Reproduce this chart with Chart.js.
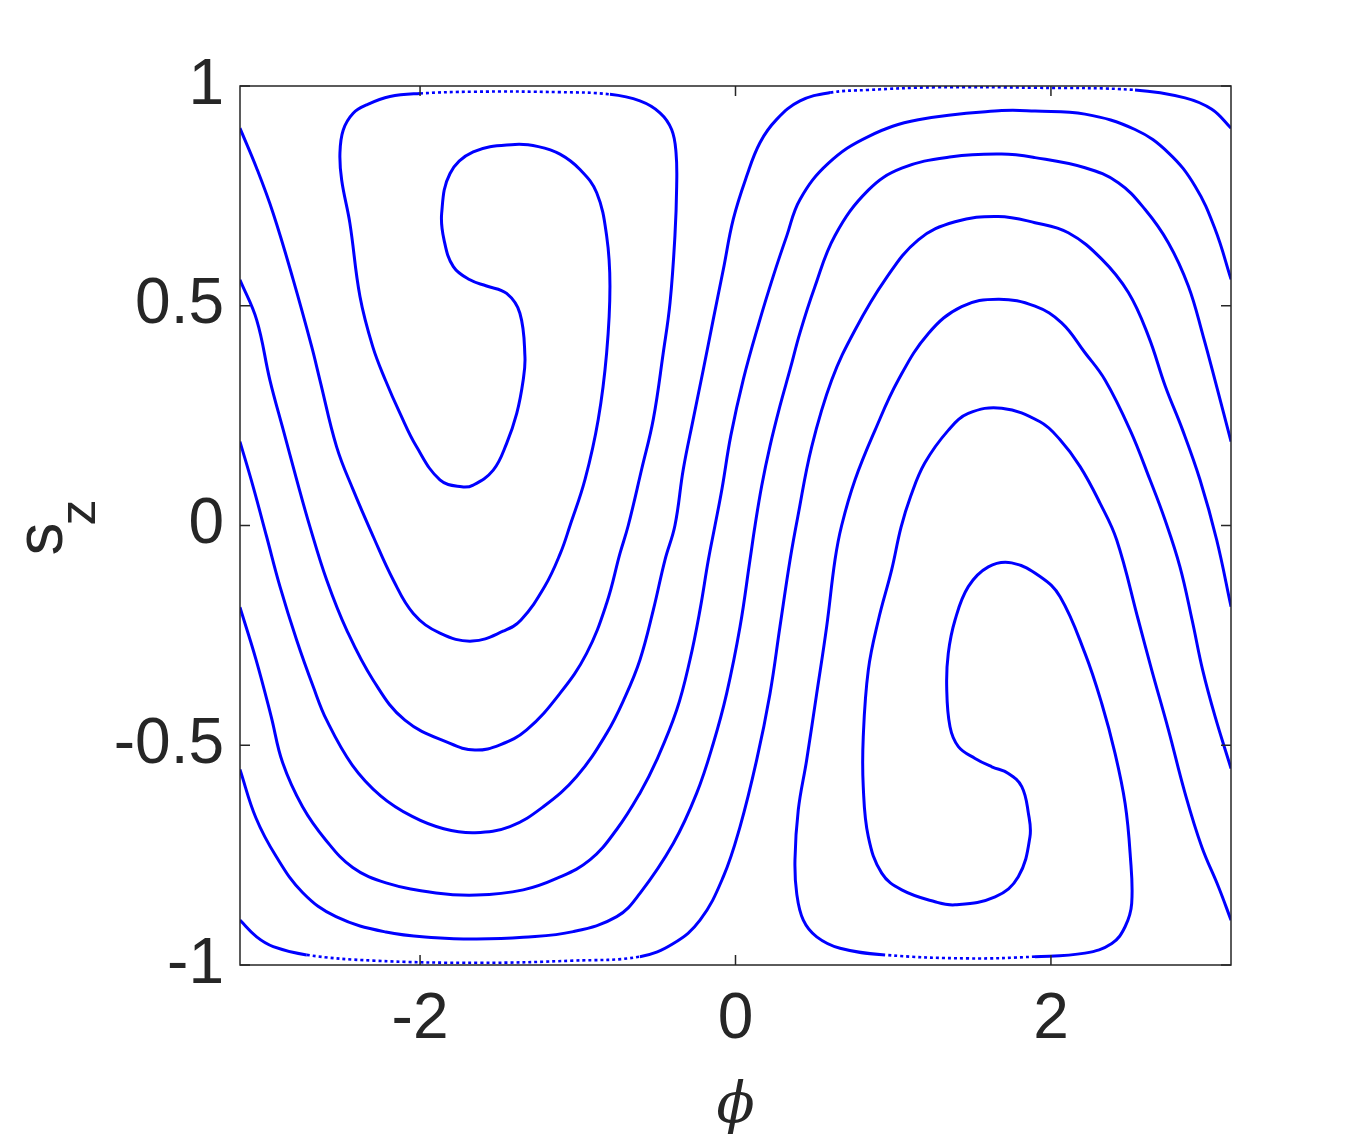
<!DOCTYPE html>
<html lang="en">
<head>
  <meta charset="UTF-8">
  <title>Phase portrait</title>
  <script src="https://cdn.jsdelivr.net/npm/chart.js"></script>
  <style>
    html, body { margin: 0; padding: 0; background: #fff; }
  </style>
</head>
<body>
  <canvas id="phaseChart" width="1360" height="1134"></canvas>

  <script>
    // tick positions
    const xTicks = [-2, 0, 2];
    const yTicks = [-1, -0.5, 0, 0.5, 1];

    // trajectories, [phi, s_z]
    // left edge 0.9 -> trough -0.26 -> left island -> trough -0.51 -> left edge 0.55
    const curveA = [[-3.142,0.904],[-3.036,0.813],[-2.931,0.710],[-2.804,0.559],[-2.687,0.407],[-2.635,0.331],[-2.529,0.179],[-2.424,0.081],[-2.297,-0.025],[-2.170,-0.124],[-2.043,-0.200],[-1.874,-0.245],[-1.669,-0.263],[-1.470,-0.240],[-1.360,-0.215],[-1.210,-0.139],[-1.110,-0.063],[-1.049,0.0],[-0.954,0.105],[-0.870,0.242],[-0.817,0.393],[-0.796,0.545],[-0.817,0.659],[-0.880,0.757],[-0.986,0.810],[-1.113,0.845],[-1.250,0.862],[-1.398,0.867],[-1.663,0.850],[-1.810,0.801],[-1.863,0.710],[-1.848,0.650],[-1.789,0.589],[-1.684,0.559],[-1.578,0.545],[-1.451,0.528],[-1.367,0.483],[-1.335,0.384],[-1.346,0.331],[-1.387,0.255],[-1.451,0.187],[-1.536,0.126],[-1.663,0.092],[-1.736,0.088],[-1.874,0.104],[-2.022,0.179],[-2.127,0.255],[-2.220,0.331],[-2.300,0.407],[-2.381,0.521],[-2.445,0.688],[-2.497,0.786],[-2.508,0.847],[-2.487,0.900],[-2.424,0.938],[-2.339,0.957],[-2.191,0.976],[-2.001,0.983],[-1.663,0.987],[-1.113,0.986],[-0.796,0.981],[-0.606,0.966],[-0.479,0.939],[-0.405,0.901],[-0.377,0.848],[-0.373,0.772],[-0.384,0.659],[-0.415,0.507],[-0.458,0.393],[-0.521,0.242],[-0.595,0.128],[-0.680,0.0],[-0.732,-0.063],[-0.817,-0.177],[-0.944,-0.291],[-1.113,-0.382],[-1.324,-0.465],[-1.493,-0.499],[-1.652,-0.511],[-1.810,-0.496],[-2.096,-0.443],[-2.297,-0.352],[-2.465,-0.238],[-2.592,-0.124],[-2.698,-0.003],[-2.782,0.104],[-2.867,0.217],[-2.952,0.331],[-3.036,0.468],[-3.142,0.559]];

    // right edge -0.9 -> peak 0.26 -> right island -> peak 0.51 -> right edge -0.55
    const curveB = [[3.142,-0.898],[3.062,-0.822],[2.956,-0.731],[2.850,-0.609],[2.745,-0.465],[2.639,-0.329],[2.554,-0.215],[2.417,-0.033],[2.311,0.051],[2.185,0.134],[2.058,0.195],[1.931,0.236],[1.688,0.267],[1.476,0.255],[1.350,0.217],[1.200,0.142],[1.110,0.066],[1.049,-0.005],[0.990,-0.101],[0.906,-0.215],[0.842,-0.329],[0.810,-0.481],[0.810,-0.594],[0.842,-0.708],[0.927,-0.791],[1.054,-0.829],[1.265,-0.856],[1.392,-0.863],[1.646,-0.845],[1.793,-0.799],[1.867,-0.708],[1.857,-0.655],[1.815,-0.594],[1.730,-0.564],[1.625,-0.549],[1.519,-0.530],[1.413,-0.503],[1.360,-0.458],[1.339,-0.367],[1.349,-0.291],[1.392,-0.215],[1.476,-0.139],[1.603,-0.094],[1.751,-0.085],[1.931,-0.116],[2.058,-0.162],[2.216,-0.291],[2.322,-0.405],[2.406,-0.518],[2.470,-0.632],[2.502,-0.746],[2.512,-0.860],[2.470,-0.913],[2.386,-0.951],[2.216,-0.973],[1.899,-0.981],[1.476,-0.985],[0.948,-0.977],[0.663,-0.962],[0.515,-0.936],[0.430,-0.898],[0.388,-0.837],[0.377,-0.761],[0.398,-0.647],[0.451,-0.534],[0.515,-0.382],[0.578,-0.230],[0.631,-0.078],[0.673,0.0],[0.758,0.104],[0.885,0.217],[1.032,0.331],[1.223,0.437],[1.434,0.498],[1.666,0.515],[1.899,0.499],[2.068,0.461],[2.216,0.393],[2.343,0.331],[2.502,0.217],[2.628,0.104],[2.723,0.013],[2.818,-0.094],[2.895,-0.215],[2.962,-0.329],[3.041,-0.435],[3.142,-0.553]];

    // left edge 0.19 -> trough -0.70 -> top 0.99 -> right edge 0.9
    const curveC = [[-3.142,0.191],[-3.058,0.088],[-2.973,-0.025],[-2.888,-0.139],[-2.782,-0.261],[-2.677,-0.367],[-2.592,-0.443],[-2.430,-0.545],[-2.250,-0.615],[-2.050,-0.662],[-1.850,-0.690],[-1.652,-0.699],[-1.430,-0.685],[-1.219,-0.640],[-1.007,-0.571],[-0.817,-0.473],[-0.700,-0.390],[-0.606,-0.306],[-0.521,-0.192],[-0.447,-0.078],[-0.384,0.0],[-0.331,0.128],[-0.268,0.242],[-0.204,0.355],[-0.141,0.469],[-0.077,0.583],[-0.014,0.697],[0.071,0.795],[0.155,0.871],[0.261,0.924],[0.409,0.966],[0.600,0.985],[0.842,0.991],[1.265,0.997],[1.899,0.996],[2.533,0.991],[2.850,0.973],[3.020,0.947],[3.142,0.904]];

    // left edge -0.19 -> trough -0.84 -> peak 0.94 -> right edge 0.55
    const curveD = [[-3.142,-0.186],[-3.040,-0.305],[-2.945,-0.433],[-2.871,-0.540],[-2.745,-0.640],[-2.597,-0.716],[-2.427,-0.778],[-2.216,-0.813],[-1.899,-0.836],[-1.641,-0.841],[-1.346,-0.829],[-1.134,-0.803],[-0.923,-0.761],[-0.750,-0.690],[-0.606,-0.609],[-0.500,-0.534],[-0.373,-0.420],[-0.289,-0.306],[-0.225,-0.192],[-0.172,-0.078],[-0.130,0.0],[-0.085,0.085],[-0.030,0.204],[0.050,0.333],[0.148,0.460],[0.240,0.568],[0.325,0.659],[0.409,0.742],[0.588,0.824],[0.842,0.885],[1.159,0.923],[1.688,0.944],[1.899,0.943],[2.216,0.936],[2.533,0.901],[2.745,0.848],[2.914,0.772],[3.041,0.674],[3.142,0.560]];

    // left edge -0.55 -> trough -0.94 -> peak 0.84 -> right edge 0.19
    const curveE = [[-3.142,-0.555],[-3.041,-0.665],[-2.914,-0.752],[-2.745,-0.835],[-2.533,-0.890],[-2.216,-0.925],[-1.899,-0.938],[-1.641,-0.941],[-1.346,-0.937],[-1.029,-0.924],[-0.753,-0.890],[-0.606,-0.837],[-0.394,-0.723],[-0.246,-0.609],[-0.141,-0.496],[-0.056,-0.382],[0.029,-0.230],[0.092,-0.078],[0.124,0.0],[0.166,0.090],[0.219,0.181],[0.282,0.272],[0.346,0.355],[0.409,0.439],[0.500,0.540],[0.631,0.660],[0.842,0.763],[1.054,0.813],[1.371,0.839],[1.688,0.845],[1.899,0.837],[2.216,0.814],[2.427,0.780],[2.597,0.719],[2.745,0.643],[2.871,0.545],[2.965,0.431],[3.050,0.317],[3.142,0.191]];

    // left edge -0.9 -> bottom -0.99 -> peak 0.70 -> right edge -0.19
    const curveF = [[-3.142,-0.898],[-3.036,-0.936],[-2.931,-0.958],[-2.719,-0.977],[-2.297,-0.990],[-1.620,-0.995],[-1.029,-0.990],[-0.606,-0.981],[-0.394,-0.951],[-0.225,-0.898],[-0.077,-0.799],[0.029,-0.685],[0.134,-0.534],[0.219,-0.382],[0.282,-0.230],[0.346,-0.078],[0.395,0.020],[0.483,0.179],[0.610,0.331],[0.758,0.445],[0.948,0.559],[1.159,0.650],[1.392,0.691],[1.666,0.703],[1.899,0.689],[2.110,0.666],[2.322,0.606],[2.491,0.530],[2.618,0.431],[2.725,0.317],[2.835,0.217],[2.945,0.104],[3.051,-0.033],[3.142,-0.185]];

    const curves = [curveA, curveB, curveC, curveD, curveE, curveF];

    const AXIS_COLOR = '#262626';
    const LINE_COLOR = '#0000ff';

    // near |s_z| = 1 the trajectory samples are sparse and show up as dots
    const sparse = c => Math.abs(c.p0.parsed.y) >= 0.977 && Math.abs(c.p1.parsed.y) >= 0.977;

    // MATLAB style box with inward ticks, plus axis titles
    const framePlugin = {
      id: 'frame',
      afterDatasetsDraw(chart) {
        const { ctx, chartArea: a, scales: { x, y } } = chart;
        ctx.save();
        ctx.strokeStyle = AXIS_COLOR;
        ctx.lineWidth = 1.5;
        ctx.strokeRect(a.left, a.top, a.right - a.left, a.bottom - a.top);
        ctx.beginPath();
        x.ticks.forEach(t => {
          const px = x.getPixelForValue(t.value);
          ctx.moveTo(px, a.bottom); ctx.lineTo(px, a.bottom - 10);
          ctx.moveTo(px, a.top); ctx.lineTo(px, a.top + 10);
        });
        y.ticks.forEach(t => {
          const py = y.getPixelForValue(t.value);
          ctx.moveTo(a.left, py); ctx.lineTo(a.left + 10, py);
          ctx.moveTo(a.right, py); ctx.lineTo(a.right - 10, py);
        });
        ctx.stroke();

        // x title: phi
        ctx.fillStyle = AXIS_COLOR;
        ctx.textAlign = 'center';
        ctx.textBaseline = 'alphabetic';
        ctx.font = 'italic 56px "DejaVu Serif"';
        ctx.fillText('\u03D5', (a.left + a.right) / 2, 1122);

        // y title: s_z, rotated
        const mid = y.getPixelForValue(0);
        ctx.textAlign = 'left';
        ctx.save();
        ctx.translate(62, mid + 30);
        ctx.rotate(-Math.PI / 2);
        ctx.font = '66px "Liberation Sans"';
        ctx.fillText('s', 0, 0);
        ctx.restore();
        ctx.save();
        ctx.translate(95, mid);
        ctx.rotate(-Math.PI / 2);
        ctx.font = '52px "Liberation Sans"';
        ctx.fillText('z', 0, 0);
        ctx.restore();
        ctx.restore();
      }
    };

    const tickFont = { family: '"Liberation Sans", Arial, sans-serif', size: 64 };

    new Chart(document.getElementById('phaseChart'), {
      type: 'scatter',
      data: {
        datasets: curves.map(pts => ({
          data: pts.map(([phi, sz]) => ({ x: phi, y: sz })),
          showLine: true,
          borderColor: LINE_COLOR,
          borderWidth: 3,
          pointRadius: 0,
          tension: 0.4,
          fill: false,
          segment: {
            borderDash: c => sparse(c) ? [3, 3] : undefined,
            borderWidth: c => sparse(c) ? 2.6 : undefined
          }
        }))
      },
      options: {
        responsive: false,
        animation: false,
        layout: { padding: { left: 0, top: 86, right: 129, bottom: 0 } },
        plugins: { legend: { display: false }, tooltip: { enabled: false } },
        scales: {
          x: {
            type: 'linear',
            min: -Math.PI,
            max: Math.PI,
            afterBuildTicks: s => { s.ticks = xTicks.map(v => ({ value: v })); },
            afterFit: s => { s.height = 169; },
            grid: { display: false, drawTicks: false },
            border: { display: false },
            ticks: { padding: 17, font: tickFont, color: AXIS_COLOR, callback: v => String(v) }
          },
          y: {
            type: 'linear',
            min: -1,
            max: 1,
            afterBuildTicks: s => { s.ticks = yTicks.map(v => ({ value: v })); },
            afterFit: s => { s.width = 240; },
            grid: { display: false, drawTicks: false },
            border: { display: false },
            ticks: { padding: 16, font: tickFont, color: AXIS_COLOR, callback: v => String(v) }
          }
        }
      },
      plugins: [framePlugin]
    });
  </script>
</body>
</html>
